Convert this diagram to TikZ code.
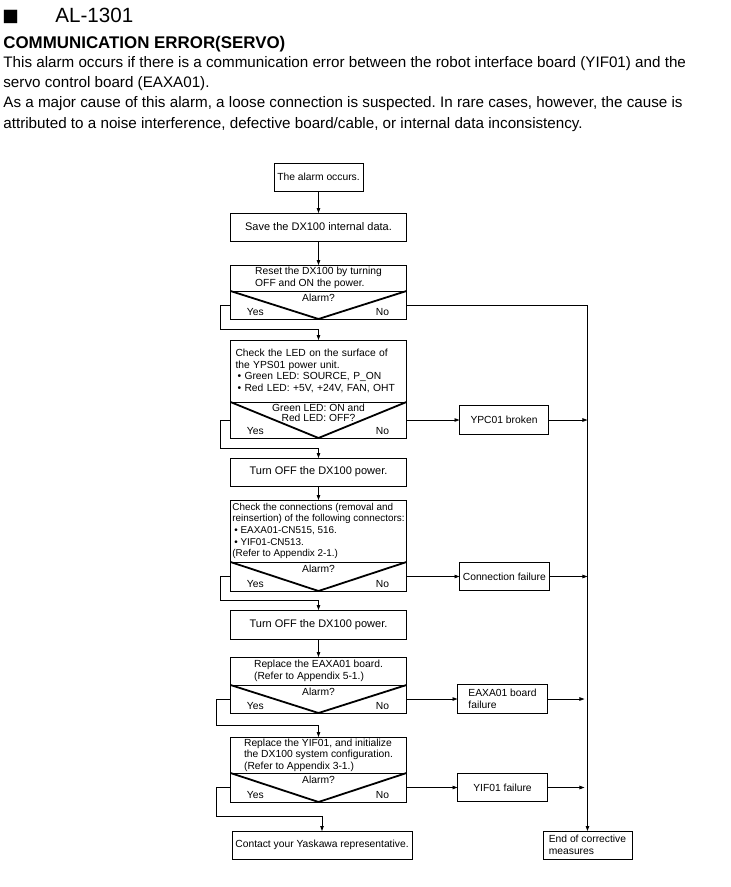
\documentclass[tikz,border=0pt]{standalone}
\usepackage{fontspec}
\setmainfont{Liberation Sans}
\newfontfamily\markfont{DejaVu Sans}
\usetikzlibrary{positioning,calc,arrows.meta}
\frenchspacing

\begin{document}
\begin{tikzpicture}[x=1pt, y=-1pt, line width=0.8pt, >={Triangle[length=5pt,width=3.5pt]},
    box/.style={draw, font=\fontsize{10.3}{11.6}\selectfont, align=left, inner ysep=1.5pt, outer sep=0pt, minimum height=28pt},
    stepbox/.style={box, minimum width=176pt},
    bigstep/.style={stepbox, font=\fontsize{11}{12}\selectfont},
    sidebox/.style={box, minimum width=89pt},
    askbox/.style={draw, minimum width=176pt, inner sep=0pt, outer sep=0pt},
    asktext/.style={font=\fontsize{10.3}{9.5}\selectfont, align=center, inner sep=1pt},
    yesno/.style={font=\fontsize{10.3}{11.6}\selectfont, inner sep=1pt},
    vee/.style={line width=1.8pt},
    head/.style={anchor=base west, inner sep=0pt},
    body/.style={head, font=\fontsize{15.2}{15.2}\selectfont}]
    \useasboundingbox (0,0) rectangle (731,887);

    \node[head, font=\markfont\fontsize{17.5}{17.5}\selectfont] (mark) at (2,21.5) {■};
    \node[head, font=\fontsize{20.6}{20.6}\selectfont] (code) at (55,22) {AL-1301};
    \node[head, font=\bfseries\fontsize{16.9}{16.9}\selectfont] (title) at (3,48) {COMMUNICATION ERROR(SERVO)};
    \node[body] (desc1) at (3,67) {This alarm occurs if there is a communication error between the robot interface board (YIF01) and the};
    \node[body] (desc2) at (3,87) {servo control board (EAXA01).};
    \node[body] (desc3) at (3,107) {As a major cause of this alarm, a loose connection is suspected. In rare cases, however, the cause is};
    \node[body] (desc4) at (3,128) {attributed to a noise interference, defective board/cable, or internal data inconsistency.};

    \node[box, minimum width=89pt] (start) at (318.5,177) {The alarm occurs.};
    \node[bigstep, below=22pt of start] (save) {Save the DX100 internal data.};
    \node[stepbox, below=24pt of save, minimum height=26pt] (reset) {Reset the DX100 by turning\\OFF and ON the power.};
    \node[askbox, below=0pt of reset, minimum height=28pt] (resetask) {};
    \node[asktext, below=2pt of resetask.north] (resetq) {Alarm?};
    \node[yesno, above right=2pt and 15pt of resetask.south west] (resetyes) {Yes};
    \node[yesno, above left=2pt and 16pt of resetask.south east] (resetno) {No};
    \draw[vee] (resetask.north west) -- (resetask.south) -- (resetask.north east);

    \node[stepbox, text width=166pt, minimum height=62pt, below=21pt of resetask] (led) {Check the LED on the surface of\\the YPS01 power unit.\\\hspace{2pt}• Green LED: SOURCE, P\_ON\\\hspace{2pt}• Red LED: +5V, +24V, FAN, OHT};
    \node[askbox, below=0pt of led, minimum height=36pt] (ledask) {};
    \node[asktext, below=1pt of ledask.north] (ledq) {Green LED: ON and\\Red LED: OFF?};
    \node[yesno, above right=2pt and 15pt of ledask.south west] (ledyes) {Yes};
    \node[yesno, above left=2pt and 16pt of ledask.south east] (ledno) {No};
    \draw[vee] (ledask.north west) -- (ledask.south) -- (ledask.north east);

    \node[bigstep, below=20pt of ledask] (off1) {Turn OFF the DX100 power.};

    \node[stepbox, font=\fontsize{9.9}{11.7}\selectfont, inner xsep=1pt, minimum height=62pt, below=14pt of off1] (conn) {Check the connections (removal and\\reinsertion) of the following connectors:\\\hspace{2pt}• EAXA01-CN515, 516.\\\hspace{2pt}• YIF01-CN513.\\(Refer to Appendix 2-1.)};
    \node[askbox, below=0pt of conn, minimum height=29pt] (connask) {};
    \node[asktext, below=2pt of connask.north] (connq) {Alarm?};
    \node[yesno, above right=2pt and 15pt of connask.south west] (connyes) {Yes};
    \node[yesno, above left=2pt and 16pt of connask.south east] (connno) {No};
    \draw[vee] (connask.north west) -- (connask.south) -- (connask.north east);

    \node[bigstep, below=19pt of connask, minimum height=29pt] (off2) {Turn OFF the DX100 power.};

    \node[stepbox, below=18pt of off2] (eaxa) {Replace the EAXA01 board.\\(Refer to Appendix 5-1.)};
    \node[askbox, below=0pt of eaxa, minimum height=28pt] (eaxaask) {};
    \node[asktext, below=2pt of eaxaask.north] (eaxaq) {Alarm?};
    \node[yesno, above right=2pt and 15pt of eaxaask.south west] (eaxayes) {Yes};
    \node[yesno, above left=2pt and 16pt of eaxaask.south east] (eaxano) {No};
    \draw[vee] (eaxaask.north west) -- (eaxaask.south) -- (eaxaask.north east);

    \node[stepbox, below=24pt of eaxaask, minimum height=36pt] (yif) {Replace the YIF01, and initialize\\the DX100 system configuration.\\(Refer to Appendix 3-1.)};
    \node[askbox, below=0pt of yif, minimum height=29pt] (yifask) {};
    \node[asktext, below=2pt of yifask.north] (yifq) {Alarm?};
    \node[yesno, above right=2pt and 15pt of yifask.south west] (yifyes) {Yes};
    \node[yesno, above left=2pt and 16pt of yifask.south east] (yifno) {No};
    \draw[vee] (yifask.north west) -- (yifask.south) -- (yifask.north east);

    \node[box, minimum width=177pt, below=29pt of yifask, xshift=3.5pt] (contact) {Contact your Yaskawa representative.};

    \node[sidebox, minimum height=29pt, right=53pt of ledask] (ypc) {YPC01 broken};
    \node[sidebox, right=53pt of connask] (connfail) {Connection failure};
    \node[sidebox, minimum width=90pt, minimum height=29pt, right=51pt of eaxaask] (eaxafail) {EAXA01 board\\failure};
    \node[sidebox, minimum width=90pt, right=51pt of yifask] (yiffail) {YIF01 failure};
    \node[sidebox, right=131pt of contact] (endbox) {End of corrective\\measures};

    \coordinate (resetturn) at ($(resetask.south)!.5!(led.north)$);
    \coordinate (ledturn) at ($(ledask.south)!.5!(off1.north)$);
    \coordinate (connturn) at ($(connask.south)!.5!(off2.north)$);
    \coordinate (eaxaturn) at ($(eaxaask.south)!.5!(yif.north)$);
    \coordinate (yifturn) at ($(yifask.south)!.5!(contact.north)$);

    \draw[->] (start) -- (save);
    \draw[->] (save) -- (reset);
    \draw[->] (resetask.west) -- ++(-10,0) |- (resetturn) -- (led.north);
    \draw[->] (resetask.east) -| (endbox.north);
    \draw[->] (ledask.west) -- ++(-10,0) |- (ledturn) -- (off1.north);
    \draw[->] (ledask.east) -- (ypc.west);
    \draw[->] (ypc.east) -- (ypc.east -| endbox.north);
    \draw[->] (off1) -- (conn);
    \draw[->] (connask.west) -- ++(-10,0) |- (connturn) -- (off2.north);
    \draw[->] (connask.east) -- (connfail.west);
    \draw[->] (connfail.east) -- (connfail.east -| endbox.north);
    \draw[->] (off2) -- (eaxa);
    \draw[->] (eaxaask.west) -- ++(-14,0) |- (eaxaturn) -- (yif.north);
    \draw[->] (eaxaask.east) -- (eaxafail.west);
    \draw[->, shorten >=3pt] (eaxafail.east) -- (eaxafail.east -| endbox.north);
    \draw[->] (yifask.west) -- ++(-14,0) |- (yifturn) -| (contact.north);
    \draw[->] (yifask.east) -- (yiffail.west);
    \draw[->, shorten >=3pt] (yiffail.east) -- (yiffail.east -| endbox.north);
\end{tikzpicture}
\end{document}
